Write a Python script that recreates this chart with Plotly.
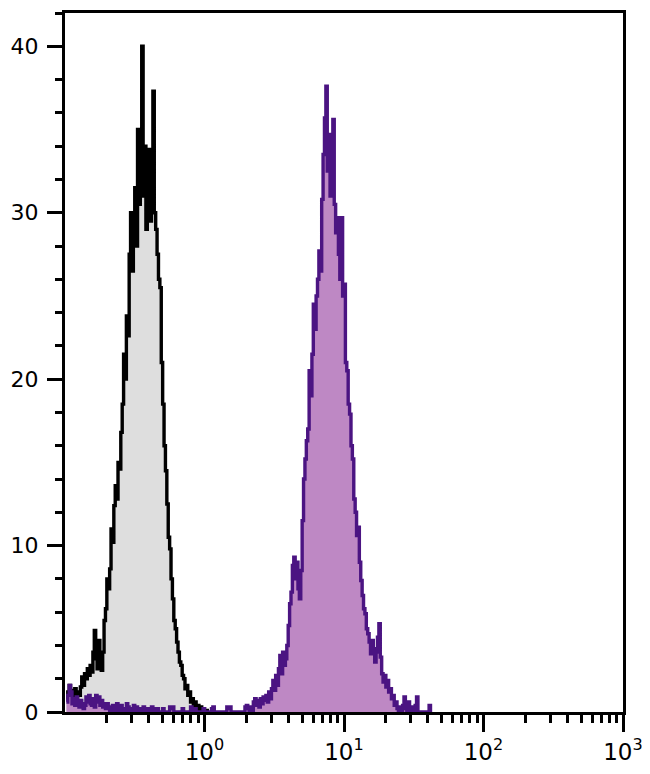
import numpy as np
import plotly.graph_objects as go

# Histogram bins: centres in log10 units, 0.01 decade wide
bin_width = 0.01

gray_start = -0.99
gray_counts = [
    0.8, 1.2, 1.6, 0.9, 1.3, 1.0, 1.4, 0.8, 1.2, 1.0,
    1.5, 2.1, 1.6, 2.3, 2.0, 2.6, 2.2, 2.8, 2.4, 3.6,
    4.9, 3.2, 2.6, 4.3, 3.0, 2.5, 3.6, 5.5, 6.2, 8.0,
    7.4, 8.6, 11.0, 10.2, 12.4, 13.6, 12.8, 15.0, 14.6, 16.8,
    18.5, 21.5, 20.0, 23.8, 22.6, 27.5, 30.0, 26.5, 29.0, 31.5,
    28.0, 35.0, 30.5, 33.0, 40.0, 31.0, 34.0, 29.0, 32.5, 33.8,
    29.5, 31.5, 37.3, 30.0, 29.0, 27.5, 26.0, 25.5, 21.0, 18.5,
    16.0, 14.5, 12.5, 10.5, 9.8, 8.0, 6.8, 5.5, 5.0, 4.2,
    3.6, 3.0, 2.8, 2.2, 2.0, 1.4, 1.6, 1.0, 1.2, 0.6,
    0.8, 0.4, 0.6, 0.2, 0.4, 0.1, 0.3, 0.0, 0.2, 0.0,
    0.1, 0.0,
]

purple_start = -0.99
purple_counts = [
    # -0.99 .. -0.90
    0.6, 1.0, 1.6, 1.2, 0.5, 0.8, 0.4, 0.9, 0.6, 0.3,
    # -0.89 .. -0.80
    0.7, 0.5, 0.2, 0.4, 0.9, 0.6, 1.0, 0.5, 0.4, 0.8,
    # -0.79 .. -0.70
    0.3, 1.0, 0.6, 0.9, 0.4, 0.7, 0.3, 0.5, 0.2, 0.5,
    # -0.69 .. -0.60
    0.3, 0.0, 0.2, 0.4, 0.0, 0.3, 0.5, 0.1, 0.0, 0.4,
    # -0.59 .. -0.50
    0.2, 0.0, 0.0, 0.5, 0.3, 0.0, 0.2, 0.0, 0.4, 0.0,
    # -0.49 .. -0.40
    0.3, 0.0, 0.0, 0.2, 0.0, 0.3, 0.0, 0.0, 0.2, 0.0,
    # -0.39 .. -0.30
    0.0, 0.3, 0.0, 0.2, 0.0, 0.2, 0.0, 0.0, 0.0, 0.2,
    # -0.29 .. -0.20
    0.0, 0.0, 0.0, 0.0, 0.3, 0.2, 0.3, 0.0, 0.0, 0.0,
    # -0.19 .. -0.10
    0.0, 0.0, 0.0, 0.2, 0.0, 0.0, 0.0, 0.0, 0.0, 0.3,
    # -0.09 .. 0.00
    0.0, 0.0, 0.2, 0.0, 0.0, 0.0, 0.0, 0.0, 0.2, 0.0,
    # 0.01 .. 0.10
    0.0, 0.0, 0.0, 0.0, 0.2, 0.3, 0.0, 0.0, 0.0, 0.0,
    # 0.11 .. 0.20
    0.0, 0.0, 0.0, 0.0, 0.0, 0.3, 0.2, 0.3, 0.0, 0.0,
    # 0.21 .. 0.30
    0.0, 0.0, 0.0, 0.0, 0.0, 0.0, 0.0, 0.0, 0.3, 0.4,
    # 0.31 .. 0.40
    0.2, 0.0, 0.3, 0.0, 0.6, 0.8, 0.4, 0.7, 0.3, 0.8,
    # 0.41 .. 0.50
    0.5, 0.9, 0.7, 1.0, 0.6, 1.2, 0.8, 1.4, 1.9, 1.3,
    # 0.51 .. 0.60
    2.2, 1.6, 2.6, 3.4, 2.3, 3.6, 2.8, 3.2, 4.0, 5.2,
    # 0.61 .. 0.70
    6.5, 7.2, 8.8, 9.3, 8.0, 9.0, 7.4, 6.8, 8.5, 11.5,
    # 0.71 .. 0.80
    14.0, 15.2, 16.3, 17.0, 20.5, 19.0, 21.5, 24.5, 23.0, 25.0,
    # 0.81 .. 0.90
    26.0, 27.7, 26.5, 30.8, 33.5, 35.7, 37.6, 32.5, 34.7, 31.0,
    # 0.91 .. 1.00
    33.0, 35.6, 30.5, 28.8, 29.7, 27.5, 26.0, 29.7, 25.0, 25.7,
    # 1.01 .. 1.10
    21.0, 20.5, 18.5, 17.9, 16.0, 15.2, 12.8, 12.0, 10.6, 11.1,
    # 1.11 .. 1.20
    9.0, 7.9, 7.0, 6.2, 5.9, 5.0, 4.7, 4.2, 3.5, 4.3,
    # 1.21 .. 1.30
    3.8, 3.0, 3.6, 4.5, 5.3, 3.3, 2.3, 1.8, 2.2, 1.5,
    # 1.31 .. 1.40
    1.9, 1.2, 1.4, 0.8, 1.0, 0.4, 0.6, 0.2, 0.0, 0.3,
    # 1.41 .. 1.50
    0.0, 0.4, 0.9, 0.2, 0.0, 0.6, 0.0, 0.0, 0.3, 0.0,
    # 1.51 .. 1.62
    0.4, 0.9, 0.0, 0.0, 0.0, 0.0, 0.0, 0.0, 0.0, 0.0, 0.4, 0.0,
]

x_major_vals = [1, 10, 100, 1000]
x_major_text = ["10<sup>0</sup>", "10<sup>1</sup>", "10<sup>2</sup>", "10<sup>3</sup>"]
x_minor_vals = [m * d for d in (0.1, 1, 10, 100) for m in range(2, 10)]
y_tick_vals = [0, 10, 20, 30, 40]

gray_x = 10 ** (gray_start + bin_width * np.arange(len(gray_counts)))
purple_x = 10 ** (purple_start + bin_width * np.arange(len(purple_counts)))

fig = go.Figure()
fig.add_trace(go.Scatter(
    x=gray_x, y=gray_counts, mode="lines",
    line=dict(color="#000000", width=3.4, shape="hv"),
    fill="tozeroy", fillcolor="#dedede",
    showlegend=False, hoverinfo="skip",
))
fig.add_trace(go.Scatter(
    x=purple_x, y=purple_counts, mode="lines",
    line=dict(color="#4b1482", width=3.4, shape="hv"),
    fill="tozeroy", fillcolor="#be88c4",
    showlegend=False, hoverinfo="skip",
))

# page body has an 8px default margin, so the figure is sized to fit inside it
fig.update_layout(
    width=642, height=766,
    margin=dict(l=57, r=27, t=5, b=62),
    paper_bgcolor="white", plot_bgcolor="white",
    font=dict(family="DejaVu Sans", size=22, color="#000000"),
)
fig.update_xaxes(
    type="log", range=[-1, 3],
    tickvals=x_major_vals, ticktext=x_major_text,
    ticks="outside", ticklen=17, tickwidth=2.5, tickcolor="#000",
    tickfont=dict(size=23),
    minor=dict(tickvals=x_minor_vals, ticks="outside", ticklen=8,
               tickwidth=2.5, tickcolor="#000", showgrid=False),
    showline=True, linecolor="#000", linewidth=3, mirror=True,
    showgrid=False, zeroline=False, automargin=False,
)
fig.update_yaxes(
    range=[0, 42],
    tickvals=y_tick_vals,
    ticks="outside", ticklen=15, tickwidth=2.5, tickcolor="#000",
    minor=dict(dtick=2, ticks="outside", ticklen=7, tickwidth=2.5,
               tickcolor="#000", showgrid=False),
    ticklabelstandoff=4,
    showline=True, linecolor="#000", linewidth=3, mirror=True,
    showgrid=False, zeroline=False, automargin=False,
)

fig.write_html("out.html")
